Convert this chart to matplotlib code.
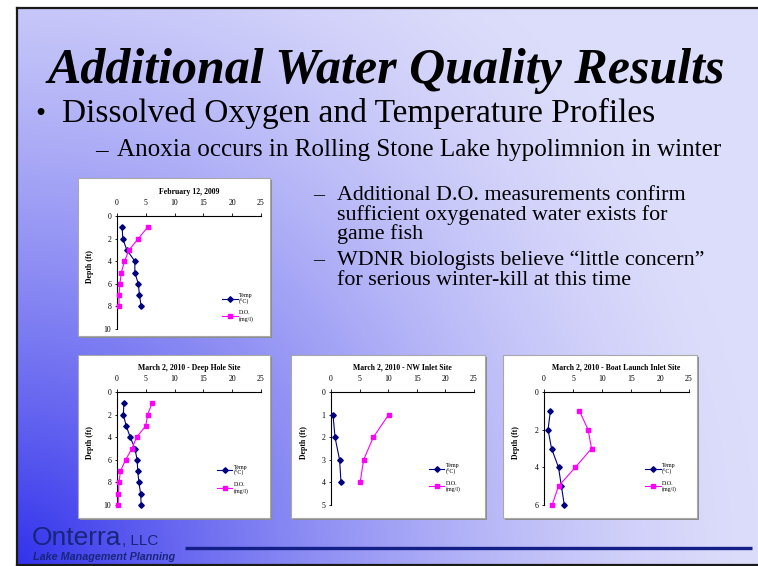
import numpy as np
import matplotlib
matplotlib.use('Agg')
import matplotlib.pyplot as plt
from matplotlib.patches import Rectangle
from matplotlib import font_manager

W, H, DPI = 758, 566, 100

# ---------------- data ----------------
feb09_depth = [1, 2, 3, 4, 5, 6, 7, 8]
feb09_temp = [0.9, 1.0, 1.7, 3.1, 3.1, 3.7, 3.9, 4.2]
feb09_do = [5.3, 3.7, 2.1, 1.3, 0.75, 0.5, 0.35, 0.35]

deep_depth = [1, 2, 3, 4, 5, 6, 7, 8, 9, 10]
deep_temp = [1.2, 1.1, 1.6, 2.3, 3.1, 3.5, 3.6, 3.8, 4.1, 4.2]
deep_do = [6.1, 5.3, 5.0, 3.4, 2.6, 1.5, 0.6, 0.35, 0.25, 0.2]

nw_depth = [1, 2, 3, 4]
nw_temp = [0.35, 0.7, 1.5, 1.75]
nw_do = [10.1, 7.4, 5.7, 5.1]

boat_depth = [1, 2, 3, 4, 5, 6]
boat_temp = [1.1, 0.7, 1.3, 2.5, 3.0, 3.5]
boat_do = [6.1, 7.6, 8.2, 5.4, 2.5, 1.4]

x_ticks = [0, 5, 10, 15, 20, 25]
titles = ["February 12, 2009", "March 2, 2010 - Deep Hole Site",
          "March 2, 2010 - NW Inlet Site", "March 2, 2010 - Boat Launch Inlet Site"]
temp_label = "Temp\n(\u00b0C)"
do_label = "D.O.\n(mg/l)"

SERIF = ['Liberation Serif', 'DejaVu Serif']
_names = {f.name for f in font_manager.fontManager.ttflist}
if 'Liberation Sans Narrow' in _names:
    SANS_N = ['Liberation Sans Narrow', 'DejaVu Sans']
    LOGO_STRETCH = 'normal'
else:
    SANS_N = ['Liberation Sans', 'DejaVu Sans']
    LOGO_STRETCH = 'condensed'
NAVY = '#000080'
MAG = '#FF00FF'
LOGO = '#18257a'

fig = plt.figure(figsize=(W / DPI, H / DPI), dpi=DPI)

# ---------------- background (pixel coordinates) ----------------
bg = fig.add_axes([0, 0, 1, 1])
bg.set_xlim(0, W)
bg.set_ylim(H, 0)
bg.axis('off')

yy, xx = np.mgrid[0:H, 0:W]
d = np.hypot(xx - 16.0, (H - 2.0 - yy))
wgt = np.clip(1 - d / 740.0, 0, 1) ** 1.5
light = np.array([220, 220, 251]) / 255.0
dark = np.array([50, 50, 236]) / 255.0
img = light + (dark - light) * wgt[..., None]
outside = (xx < 16) | (yy < 7) | (yy > 565)
img[outside] = 1.0
bg.imshow(img, extent=(0, W, H, 0), aspect='auto', interpolation='bilinear', zorder=0)

# slide frame
bg.plot([17, 17], [7.5, 564.5], color='#1a1a1a', lw=1.6, zorder=1)
bg.plot([17, W], [7.5, 7.5], color='#1a1a1a', lw=1.6, zorder=1)
bg.plot([17, W], [564.5, 564.5], color='#1a1a1a', lw=1.6, zorder=1)

renderer = fig.canvas.get_renderer()


def fit_width(t, target):
    for _ in range(3):
        w = t.get_window_extent(renderer).width
        t.set_fontsize(t.get_fontsize() * target / w)


# ---------------- slide texts ----------------
t_title = bg.text(48, 83, "Additional Water Quality Results", family=SERIF,
                  fontweight='bold', fontstyle='italic', fontsize=40,
                  va='baseline', ha='left', color='black', zorder=3)
fit_width(t_title, 679)

bg.text(35, 122, "\u2022", family=SERIF, fontsize=21, va='baseline', ha='left', zorder=3)
t_b1 = bg.text(62, 122, "Dissolved Oxygen and Temperature Profiles", family=SERIF,
               fontsize=20, va='baseline', ha='left', zorder=3)
fit_width(t_b1, 594)

t_b2 = bg.text(117, 156, "Anoxia occurs in Rolling Stone Lake hypolimnion in winter",
               family=SERIF, fontsize=16, va='baseline', ha='left', zorder=3)
fit_width(t_b2, 603)
bg.text(95, 156, "\u2013", family=SERIF, fontsize=t_b2.get_fontsize(),
        va='baseline', ha='left', zorder=3)

r_lines = [("Additional D.O. measurements confirm", 200, True),
           ("sufficient oxygenated water exists for", 220, False),
           ("game fish", 239, False),
           ("WDNR biologists believe \u201clittle concern\u201d", 265, True),
           ("for serious winter-kill at this time", 285, False)]
t_r0 = bg.text(337, 200, r_lines[0][0], family=SERIF, fontsize=12,
               va='baseline', ha='left', zorder=3)
fit_width(t_r0, 348)
rfs = t_r0.get_fontsize()
for txt, yb, dash in r_lines[1:]:
    bg.text(337, yb, txt, family=SERIF, fontsize=rfs, va='baseline', ha='left', zorder=3)
for txt, yb, dash in r_lines:
    if dash:
        bg.text(313, yb, "\u2013", family=SERIF, fontsize=rfs, va='baseline', ha='left', zorder=3)

# logo
t_on = bg.text(32, 545, "Onterra", family=SANS_N, fontstretch=LOGO_STRETCH,
               fontsize=18, color=LOGO, va='baseline', ha='left', zorder=3)
fit_width(t_on, 106)
if t_on.get_fontsize() > 19:
    t_on.set_fontsize(19)
on_right = t_on.get_window_extent(renderer).x1
t_llc = bg.text(on_right + 1, 545, ", LLC", family=SANS_N, fontstretch=LOGO_STRETCH,
                fontsize=11, color=LOGO, va='baseline', ha='left', zorder=3)
t_lake = bg.text(33, 560, "Lake Management Planning", family=SANS_N,
                 fontstretch=LOGO_STRETCH, fontsize=7.5,
                 fontweight='bold', fontstyle='italic', color=LOGO,
                 va='baseline', ha='left', zorder=3)
fit_width(t_lake, 142)
bg.plot([185, 752], [548, 548], color='#142088', lw=2.4, solid_capstyle='butt', zorder=3)

# ---------------- charts ----------------
charts = [
    dict(depth=feb09_depth, temp=feb09_temp, do=feb09_do, title=titles[0],
         ymax=10, ystep=2, box=(78, 178, 270, 336), ax=(117, 216, 261, 329), leg=(0.729, 0.19)),
    dict(depth=deep_depth, temp=deep_temp, do=deep_do, title=titles[1],
         ymax=10, ystep=2, box=(78, 355, 270, 518), ax=(117, 392, 261, 505), leg=(0.694, 0.23)),
    dict(depth=nw_depth, temp=nw_temp, do=nw_do, title=titles[2],
         ymax=5, ystep=1, box=(291, 355, 485, 518), ax=(331, 392, 474, 505), leg=(0.685, 0.24)),
    dict(depth=boat_depth, temp=boat_temp, do=boat_do, title=titles[3],
         ymax=6, ystep=2, box=(503, 355, 697, 518), ax=(544, 392, 689, 505), leg=(0.697, 0.24)),
]

for c in charts:
    x0, y0, x1, y1 = c['box']
    bg.add_patch(Rectangle((x0 + 2, y0 + 2), x1 - x0, y1 - y0, facecolor='#8c8c8c',
                           edgecolor='none', zorder=2))
    bg.add_patch(Rectangle((x0, y0), x1 - x0, y1 - y0, facecolor='white',
                           edgecolor='#a8a8a8', lw=0.8, zorder=2.5))

    a0, b0, a1, b1 = c['ax']
    ax = fig.add_axes([a0 / W, 1 - b1 / H, (a1 - a0) / W, (b1 - b0) / H])
    ax.set_facecolor('white')
    ax.plot(c['temp'], c['depth'], color=NAVY, lw=0.8, marker='D', ms=2.8,
            mec=NAVY, mfc=NAVY, clip_on=False, zorder=3, label=temp_label)
    ax.plot(c['do'], c['depth'], color=MAG, lw=0.8, marker='s', ms=3.4,
            mec=MAG, mfc=MAG, clip_on=False, zorder=3, label=do_label)
    ax.set_xlim(0, 25)
    ax.set_ylim(c['ymax'], 0)
    ax.set_xticks(x_ticks)
    ax.set_yticks(np.arange(0, c['ymax'] + 0.01, c['ystep']))
    ax.xaxis.tick_top()
    for s in ['right', 'bottom']:
        ax.spines[s].set_visible(False)
    for s in ['left', 'top']:
        ax.spines[s].set_linewidth(0.8)
        ax.spines[s].set_color('black')
    ax.tick_params(axis='x', which='major', direction='out', length=2, width=0.6,
                   pad=4.3, labelsize=5.6)
    ax.tick_params(axis='y', which='major', direction='out', length=1.5, width=0.6,
                   pad=2.6, labelsize=5.6)
    for lab in ax.get_xticklabels() + ax.get_yticklabels():
        lab.set_family(SERIF)
    ax.set_ylabel("Depth (ft)", family=SERIF, fontweight='bold', fontsize=5.6)
    ax.yaxis.set_label_coords(-23.5 / (a1 - a0), 0.55)
    ax.text(0.5, 1 + 24.5 / (b1 - b0), c['title'], transform=ax.transAxes,
            ha='center', va='center', family=SERIF, fontweight='bold', fontsize=5.6)
    ax.legend(loc='center left', bbox_to_anchor=c['leg'], frameon=False,
              prop={'family': SERIF, 'size': 4.3}, handlelength=2.6,
              handletextpad=0.25, labelspacing=0.9, borderaxespad=0,
              borderpad=0)

fig.savefig('out.png', dpi=DPI)
